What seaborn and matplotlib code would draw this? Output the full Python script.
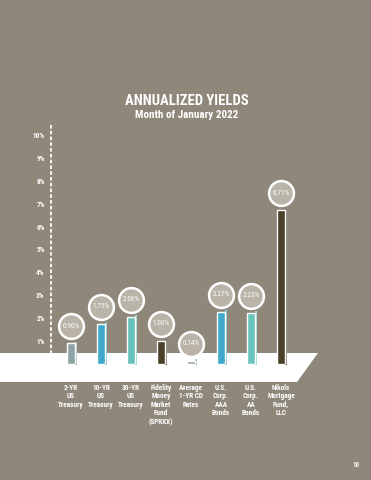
import numpy as np
import pandas as pd
import seaborn as sns
import matplotlib.pyplot as plt
from matplotlib.patches import Polygon, Rectangle
from matplotlib.colors import to_rgb
from matplotlib import font_manager

# chart values
categories = ['2-YR\nUS\nTreasury', '10-YR\nUS\nTreasury', '30-YR\nUS\nTreasury',
              'Fidelity\nMoney\nMarket\nFund\n(SPRXX)', 'Average\n1-YR CD\nRates',
              'U.S.\nCorp.\nAAA\nBonds', 'U.S.\nCorp.\nAA\nBonds',
              'Nikols\nMortgage\nFund,\nLLC']
yields = [0.90, 1.75, 2.06, 1.00, 0.14, 2.27, 2.23, 6.71]
value_labels = ['0.90%', '1.75%', '2.06%', '1.00%', '0.14%', '2.27%', '2.23%', '6.71%']
bar_colors = ['#8fa3a6', '#3fa9cb', '#66c2b9', '#4a3f28',
              '#8fa3a6', '#3fa9cb', '#69c3ba', '#4a3f28']
y_ticks = list(range(1, 11))
y_tick_labels = [f'{t}%' for t in y_ticks]

bg = '#8f887a'
bubble = '#b9b3a8'

sns.set_theme(style='white')
names = sorted({f.name for f in font_manager.fontManager.ttflist})
fams = [n for n in ['Roboto Condensed', 'Liberation Sans Narrow', 'Open Sans Condensed',
                    'DejaVu Sans Condensed', 'Roboto', 'Liberation Sans'] if n in names]
plt.rcParams['font.family'] = fams + ['DejaVu Sans']
plt.rcParams['font.stretch'] = 'condensed'

fig = plt.figure(figsize=(3.71, 4.80), dpi=100)
fig.patch.set_facecolor(bg)

# white "floor" under the bars
W, H = 371, 480
floor = [(0, 353), (318, 353), (297, 382), (0, 382)]
fig.patches.append(Polygon([(x / W, 1 - y / H) for x, y in floor], closed=True,
                           transform=fig.transFigure, facecolor='white',
                           edgecolor='none', zorder=-1))

px = 22.9  # pixels per 1%
ymax = 10.5
ax = fig.add_axes([51 / W, (H - 364) / H, (296 - 51) / W, ymax * px / H])
ax.patch.set_alpha(0)

df = pd.DataFrame({'cat': categories, 'val': yields})
sns.barplot(data=df, x='cat', y='val', hue='cat', palette=bar_colors,
            order=categories, hue_order=categories, legend=False,
            width=0.25, saturation=1, ax=ax, zorder=3)

# thin lighter side strip to fake the 3D look
for p, c in zip(ax.patches[:len(categories)], bar_colors):
    r = np.array(to_rgb(c))
    light = tuple(r + (1 - r) * 0.35)
    ax.add_patch(Rectangle((p.get_x() + p.get_width(), -0.05), 0.06,
                           p.get_height() + 0.13, facecolor=light,
                           edgecolor='none', zorder=2, clip_on=False))

# value bubbles
for i, (v, lab) in enumerate(zip(yields, value_labels)):
    ax.scatter(i, v + 0.75, s=320, facecolor=bubble, edgecolor='white',
               linewidth=1.8, zorder=4, clip_on=False)
    ax.text(i, v + 0.75, lab, ha='center', va='center', fontsize=5.2,
            color='white', zorder=5)

ax.set_xlim(-0.667, 7.5)
ax.set_ylim(0, ymax)
ax.set_xlabel('')
ax.set_ylabel('')
ax.set_xticks([])
ax.set_yticks(y_ticks)
ax.set_yticklabels(y_tick_labels, fontsize=5.2, color='white', fontweight='bold')
ax.tick_params(axis='y', length=0, pad=4.5)
for s in ['top', 'right', 'bottom']:
    ax.spines[s].set_visible(False)
ax.spines['left'].set_color('white')
ax.spines['left'].set_linewidth(1.3)
ax.spines['left'].set_linestyle((0, (1, 2.2)))
ax.spines['left'].set_bounds(0.48, 10.44)

# category labels under the floor
for i, c in enumerate(categories):
    ax.text(i, -0.86, c, ha='center', va='top', fontsize=5.2, color='white',
            fontweight='bold', linespacing=1.1, clip_on=False)

fig.text(187 / W, 1 - 101 / H, 'ANNUALIZED YIELDS', ha='center', va='center',
         fontsize=10.5, color='white', fontweight='bold')
fig.text(187 / W, 1 - 115 / H, 'Month of January 2022', ha='center', va='center',
         fontsize=8, color='white', fontweight='bold')
fig.text(356 / W, 1 - 465 / H, '10', ha='center', va='center', fontsize=5,
         color='white', fontweight='bold')

fig.savefig('out.png', dpi=100, facecolor=bg)
